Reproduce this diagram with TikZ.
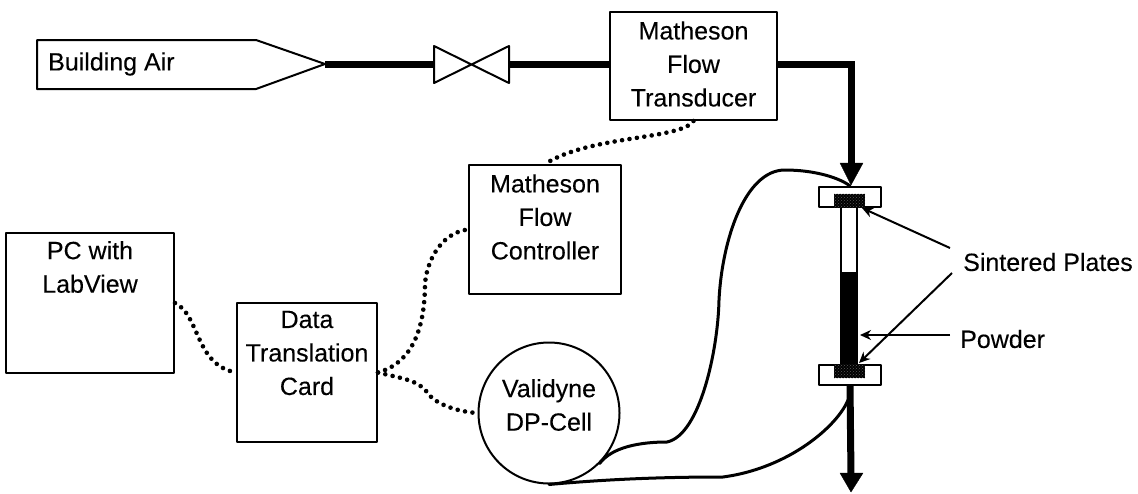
\documentclass[tikz,border=0pt]{standalone}
\usepackage{fontspec}
\setmainfont{Liberation Sans}[FakeBold=0.2]
\usetikzlibrary{arrows.meta,patterns}
\begin{document}
\begin{tikzpicture}[x=1pt,y=-1pt,line join=round,>=stealth]
	\tikzset{every node/.style={font=\fontsize{25}{33.5}\selectfont,inner sep=0pt},
		box/.style={draw,line width=2pt},
		txt/.style={align=center},
		pipe/.style={line width=7pt,line join=miter},
		wire/.style={line width=4.6pt,line cap=round,dash pattern=on 0pt off 7.5pt},
		tap/.style={line width=3pt,line cap=round},
		lead/.style={line width=2pt,-{Stealth[length=11pt,width=10pt]}},
		flange/.style={box,fill=white,minimum width=62pt,minimum height=20pt},
		plate/.style={fill=black,minimum width=31pt,minimum height=14pt,postaction={pattern=crosshatch dots,pattern color=black!65}}}
	\useasboundingbox (0,0) rectangle (1138,493);
	% supply
	\draw[box] (37,40)--(256,40)--(325,64)--(256,89)--(37,89)--cycle;
	\node[anchor=west] (air) at (48,64) {Building Air};
	\coordinate (airtip) at (325,64);
	\coordinate (valvel) at (434,64);
	\coordinate (valver) at (509,64);
	\draw[box] (434,46)--(509,83)--(509,46)--(434,83)--cycle;
	% boxes
	\node[box,minimum width=167pt,minimum height=108pt] (trans) at (693.5,66) {};
	\node[box,minimum width=152pt,minimum height=129pt] (ctrl) at (545,229.5) {};
	\node[box,minimum width=168pt,minimum height=140pt] (pc) at (90,303) {};
	\node[box,minimum width=140pt,minimum height=139pt] (card) at (307,372.5) {};
	\node[box,circle,minimum size=141pt] (cell) at (549,413) {};
	\node[txt] (transtxt) at (693.5,64) {Matheson\\Flow\\Transducer};
	\node[txt] (ctrltxt) at (545,217) {Matheson\\Flow\\Controller};
	\node[txt] (pctxt) at (90,267) {PC with\\LabView};
	\node[txt] (cardtxt) at (307,353) {Data\\Translation\\Card};
	\node[txt] (celltxt) at (549,405) {Validyne\\DP-Cell};
	% pipes
	\draw[pipe] (airtip)--(valvel);
	\draw[pipe] (valver)--(valver-|trans.west);
	% column
	\node[flange] (topfl) at (850,197) {};
	\node[flange] (botfl) at (850,374.5) {};
	\node[box,fill=white,minimum width=16pt,minimum height=157pt] (tube) at (849,285) {};
	\node[fill=black,minimum width=17pt,minimum height=91pt] (powder) at (849,317.5) {};
	\node[plate] (topplate) at (849.5,200.5) {};
	\node[plate] (botplate) at (849.5,371) {};
	\draw[pipe] (valver-|trans.east)-|(851,165);
	\draw[pipe] (botfl.south)--(851,475);
	\draw[fill=black] (840,163)--(863,163)--(851,185)--cycle;
	\draw[fill=black] (840,473)--(863,473)--(851,492)--cycle;
	% data lines
	\draw[wire] (trans.south) .. controls (680,140) and (590,135) .. (ctrl.north);
	\draw[wire] (pc.east) .. controls (200,315) and (195,365) .. (card.west);
	\draw[wire] (card.east) .. controls (405,365) and (425,340) .. (425,283) .. controls (428,255) and (445,232) .. (ctrl.west);
	\draw[wire] (card.east) .. controls (400,378) and (418,380) .. (427,392) .. controls (435,405) and (460,412) .. (cell.west);
	% pressure taps
	\draw[tap] (cell.-45) .. controls (612,447) and (640,442) .. (667,442) .. controls (700,435) and (718,350) .. (719,300) .. controls (722,240) and (745,170) .. (785,170) .. controls (815,170) and (840,178) .. (topfl.north);
	\coordinate (outtap) at (848,400);
	\draw[tap] (cell.south) .. controls (620,478) and (680,477) .. (723,477) .. controls (790,468) and (838,425) .. (outtap);
	% labels
	\node[anchor=west] (plates) at (963,262) {Sintered Plates};
	\node[anchor=west] (pow) at (960,339) {Powder};
	\coordinate (pl1) at (950,248);
	\coordinate (pl2) at (952,273);
	\coordinate (pl3) at (950,335);
	\draw[lead] (pl1)--(862,208);
	\draw[lead] (pl2)--(859,363);
	\draw[lead] (pl3)--(860,335);
\end{tikzpicture}
\end{document}
